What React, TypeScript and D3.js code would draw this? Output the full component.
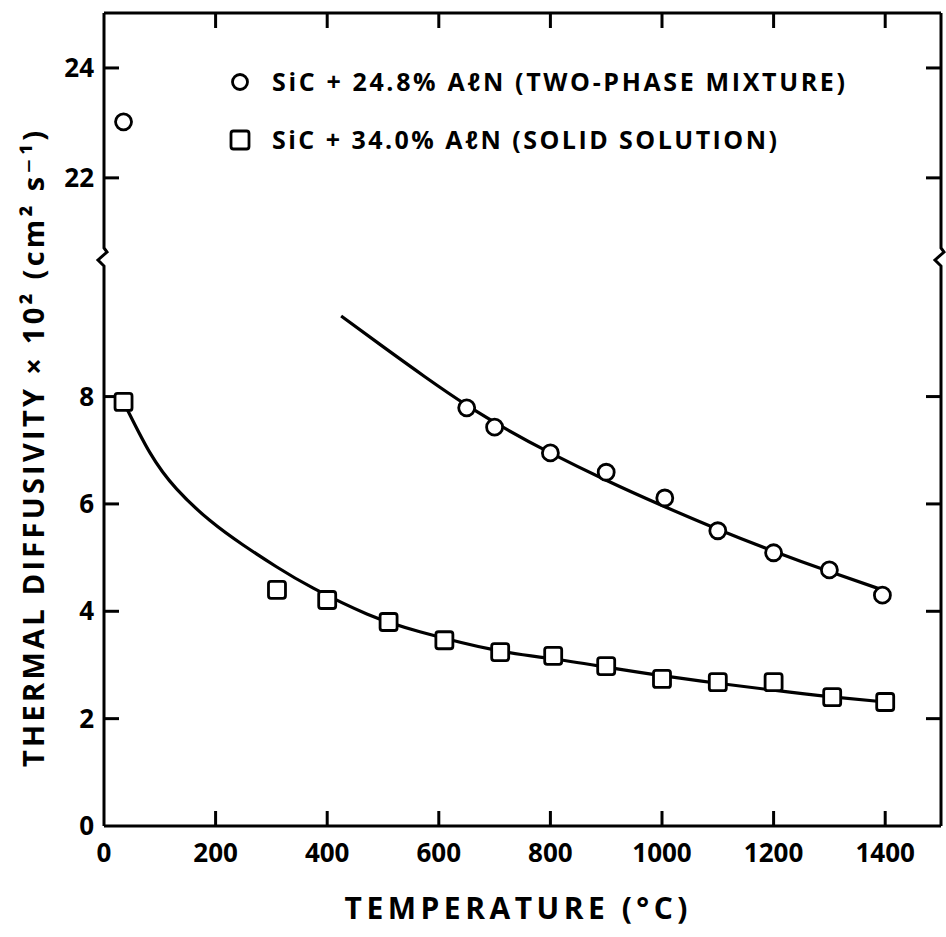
import React from "react";
import * as d3 from "d3";

// ---- data ----
const circleTemp = [35, 650, 700, 800, 900, 1005, 1100, 1200, 1300, 1395];
const circleDiff = [23.02, 7.79, 7.43, 6.95, 6.59, 6.11, 5.5, 5.09, 4.77, 4.3];

const squareTemp = [35, 310, 400, 510, 610, 710, 805, 900, 1000, 1100, 1200, 1305, 1400];
const squareDiff = [7.9, 4.4, 4.21, 3.8, 3.46, 3.24, 3.17, 2.98, 2.74, 2.68, 2.68, 2.4, 2.31];

// fitted curves
const fitCircTemp = [425, 500, 575, 650, 725, 800, 900, 1000, 1100, 1200, 1300, 1400];
const fitCircDiff = [9.5, 8.93, 8.37, 7.84, 7.37, 6.95, 6.44, 5.97, 5.53, 5.12, 4.74, 4.38];

const fitSqTemp = [35, 82, 130, 190, 250, 309, 375, 471, 566, 700, 800, 900, 1000, 1100, 1200, 1300, 1400];
const fitSqDiff = [7.9, 6.96, 6.28, 5.69, 5.23, 4.83, 4.43, 3.95, 3.62, 3.28, 3.12, 2.96, 2.8, 2.66, 2.53, 2.41, 2.31];

const xTicks = [200, 400, 600, 800, 1000, 1200, 1400];
const xTickLabels = ["0", "200", "400", "600", "800", "1000", "1200", "1400"];
const xLabelValues = [0, 200, 400, 600, 800, 1000, 1200, 1400];
const yTicks = [2, 4, 6, 8, 22, 24];
const yLabelValues = [0, 2, 4, 6, 8, 22, 24];

const legendLabels = [
  "SiC + 24.8% AℓN (TWO-PHASE MIXTURE)",
  "SiC + 34.0% AℓN (SOLID SOLUTION)",
];

const FONT = "'Open Sans', 'DejaVu Sans', sans-serif";

export default function App() {
  const W = 946, H = 937;
  const left = 104, right = 941, top = 13, bottom = 826;
  const x = d3.scaleLinear().domain([0, 1500]).range([left, right]);
  // broken axis: 0..10.6 below the break, 20.56..25 above
  const y = d3.scaleLinear().domain([0, 10.6, 20.56, 25]).range([bottom, 257, 257, top]);
  const yBreak = 257;

  const line = d3
    .line<[number, number]>()
    .x((d) => x(d[0]))
    .y((d) => y(d[1]))
    .curve(d3.curveNatural);

  const circFit = fitCircTemp.map((t, i) => [t, fitCircDiff[i]] as [number, number]);
  const sqFit = fitSqTemp.map((t, i) => [t, fitSqDiff[i]] as [number, number]);

  const sw = 3;
  const tickLen = 15;
  const zig = (xx: number, dir: number) =>
    `M${xx},${top} L${xx},${yBreak - 9} L${xx + 3 * dir},${yBreak - 5} L${xx - 6 * dir},${yBreak + 3} L${xx},${yBreak + 9} L${xx},${bottom}`;

  return (
    <svg
      width={W}
      height={H}
      style={{ position: "absolute", left: 0, top: 0, background: "#fff" }}
      fontFamily={FONT}
    >
      <rect x={0} y={0} width={W} height={H} fill="#fff" />
      {/* frame */}
      <path d={zig(left, 1)} fill="none" stroke="#000" strokeWidth={sw} />
      <path d={zig(right, 1)} fill="none" stroke="#000" strokeWidth={sw} />
      <line x1={left} x2={right} y1={top} y2={top} stroke="#000" strokeWidth={sw} />
      <line x1={left} x2={right} y1={bottom} y2={bottom} stroke="#000" strokeWidth={sw} />

      {/* ticks */}
      {xTicks.map((t) => (
        <g key={"xt" + t}>
          <line x1={x(t)} x2={x(t)} y1={bottom} y2={bottom - tickLen} stroke="#000" strokeWidth={sw} />
          <line x1={x(t)} x2={x(t)} y1={top} y2={top + tickLen} stroke="#000" strokeWidth={sw} />
        </g>
      ))}
      {yTicks.map((v) => (
        <g key={"yt" + v}>
          <line x1={left} x2={left + tickLen} y1={y(v)} y2={y(v)} stroke="#000" strokeWidth={sw} />
          <line x1={right} x2={right - tickLen} y1={y(v)} y2={y(v)} stroke="#000" strokeWidth={sw} />
        </g>
      ))}

      {/* tick labels */}
      {xLabelValues.map((t, i) => (
        <text key={"xl" + t} x={x(t)} y={862} textAnchor="middle" fontSize={26} fontWeight={700}>
          {xTickLabels[i]}
        </text>
      ))}
      {yLabelValues.map((v) => (
        <text key={"yl" + v} x={94} y={y(v) + 9} textAnchor="end" fontSize={26} fontWeight={700}>
          {v}
        </text>
      ))}

      {/* axis titles */}
      <text x={516} y={919} textAnchor="middle" fontSize={30} fontWeight={700} textLength={343} lengthAdjust="spacing">
        TEMPERATURE (°C)
      </text>
      <text
        transform="translate(44,449) rotate(-90)"
        textAnchor="middle"
        fontSize={29}
        fontWeight={700}
        textLength={636}
        lengthAdjust="spacing"
      >
        THERMAL DIFFUSIVITY × 10² (cm² s⁻¹)
      </text>

      {/* fitted curves */}
      <path d={line(circFit) || ""} fill="none" stroke="#000" strokeWidth={3.2} />
      <path d={line(sqFit) || ""} fill="none" stroke="#000" strokeWidth={3.2} />

      {/* data points */}
      {squareTemp.map((t, i) => (
        <rect
          key={"s" + i}
          x={x(t) - 8.5}
          y={y(squareDiff[i]) - 8.5}
          width={17}
          height={17}
          rx={2.5}
          fill="#fff"
          stroke="#000"
          strokeWidth={2.8}
        />
      ))}
      {circleTemp.map((t, i) => (
        <circle key={"c" + i} cx={x(t)} cy={y(circleDiff[i])} r={8} fill="#fff" stroke="#000" strokeWidth={2.8} />
      ))}

      {/* legend */}
      <circle cx={240} cy={82} r={7.5} fill="#fff" stroke="#000" strokeWidth={2.8} />
      <text x={272} y={91} fontSize={25} fontWeight={700} textLength={573} lengthAdjust="spacing">
        {legendLabels[0]}
      </text>
      <rect x={231} y={131} width={18} height={18} rx={2.5} fill="#fff" stroke="#000" strokeWidth={2.8} />
      <text x={272} y={149} fontSize={25} fontWeight={700} textLength={505} lengthAdjust="spacing">
        {legendLabels[1]}
      </text>
    </svg>
  );
}
